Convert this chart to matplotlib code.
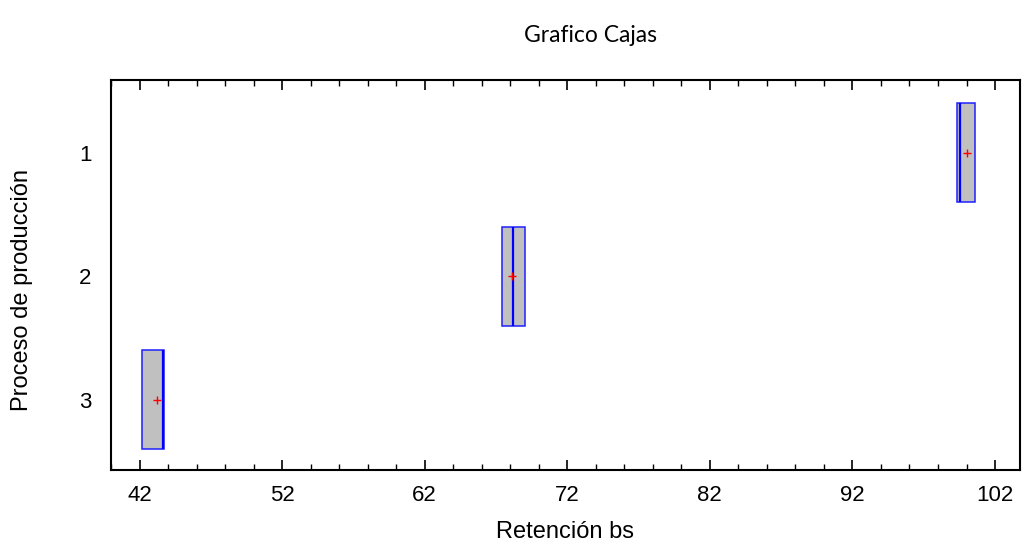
import numpy as np
import matplotlib.pyplot as plt

# data
procesos = [1, 2, 3]
q1 = [99.3, 67.4, 42.15]
q3 = [100.6, 69.0, 43.7]
medianas = [99.55, 68.2, 43.65]
medias = [100.0, 68.1, 43.2]
xticks = [42, 52, 62, 72, 82, 92, 102]

fig = plt.figure(figsize=(10.25, 5.47), dpi=100)
ax = fig.add_axes([111/1025, 1 - 470/547, (1020 - 111)/1025, (470 - 80)/547])

stats = []
for i in range(len(procesos)):
    stats.append(dict(q1=q1[i], q3=q3[i], med=medianas[i], mean=medias[i],
                      whislo=q1[i], whishi=q3[i], fliers=[]))

ax.bxp(stats, positions=procesos, vert=False, widths=0.8, patch_artist=True,
       showmeans=True, showcaps=False,
       boxprops=dict(facecolor='#c0c0c0', edgecolor='#2020ff', linewidth=1.1),
       medianprops=dict(color='blue', linewidth=1.6),
       whiskerprops=dict(color='blue', linewidth=1),
       meanprops=dict(marker='+', markeredgecolor='red', markersize=6, markeredgewidth=1))

ax.set_xlim(40.25, 103.75)
ax.set_ylim(3.57, 0.41)
ax.set_xticks(xticks)
ax.set_xticks(np.arange(40, 104, 2), minor=True)
ax.set_yticks(procesos)
ax.set_yticklabels([str(p) for p in procesos])
ax.tick_params(axis='x', which='both', direction='in', top=True, bottom=True,
               labelsize=16, pad=11)
ax.tick_params(axis='x', which='major', length=7, width=1.2)
ax.tick_params(axis='x', which='minor', length=4, width=1)
ax.tick_params(axis='y', length=0, labelsize=16, pad=14)
for lbl in ax.get_xticklabels() + ax.get_yticklabels():
    lbl.set_fontfamily('Liberation Sans')
for s in ax.spines.values():
    s.set_linewidth(1.5)

fig.text(590/1025, 1 - 35/547, 'Grafico Cajas', ha='center', va='center',
         fontsize=16.5, family='Lato')
fig.text(565/1025, 1 - 532/547, 'Retención bs', ha='center', va='center',
         fontsize=17, family='Liberation Sans')
fig.text(22/1025, 1 - 290/547, 'Proceso de producción', ha='center', va='center',
         rotation=90, fontsize=17, family='Liberation Sans')

fig.savefig('out.png', dpi=100)
